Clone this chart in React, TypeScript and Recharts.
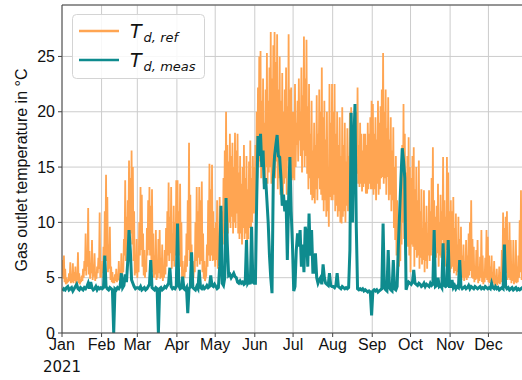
import { LineChart, Line, XAxis, YAxis, CartesianGrid, ReferenceLine } from 'recharts';

// daily values (day 0 = 1 Jan 2021)
const refHiJan = [6.6, 7.0, 5.8, 5.0, 4.8, 5.4, 6.4, 5.2, 6.3, 5.5, 6.0, 5.0, 7.3, 5.4, 4.9, 5.2, 5.8, 6.5, 9.0, 7.0, 11.3, 7.4, 5.9, 8.4, 6.2, 7.2, 5.5, 6.0, 6.8, 10.9, 6.2];
const refLoJan = [5.2, 4.9, 4.6, 4.4, 4.5, 4.6, 4.7, 4.5, 4.6, 4.5, 4.7, 4.4, 4.8, 4.5, 4.4, 4.6, 4.7, 5.0, 5.6, 5.2, 6.0, 5.3, 4.9, 5.4, 4.8, 5.1, 4.7, 4.9, 5.4, 5.8, 5.0];
const measJan = [3.8, 4.0, 3.9, 4.1, 4.2, 3.9, 4.0, 4.1, 3.8, 4.0, 4.2, 4.4, 4.0, 3.9, 4.1, 4.0, 3.9, 4.1, 4.0, 4.2, 4.5, 4.0, 4.6, 4.1, 3.9, 4.0, 4.2, 3.9, 4.1, 4.0, 4.1];

const refHiFeb = [6.5, 7.8, 11.0, 14.3, 12.3, 8.0, 9.6, 6.0, 5.5, 5.0, 5.3, 5.8, 5.2, 6.5, 5.6, 7.2, 6.0, 8.5, 13.8, 10.5, 12.0, 15.6, 14.0, 16.5, 15.0, 11.0, 6.2, 8.5];
const refLoFeb = [5.0, 5.4, 6.0, 7.0, 6.5, 5.5, 5.8, 4.8, 4.6, 4.5, 4.5, 4.7, 4.6, 4.8, 4.7, 5.0, 4.9, 5.5, 7.0, 6.5, 7.5, 8.5, 8.0, 9.0, 8.0, 6.5, 5.2, 5.4];
const measFeb = [4.0, 4.1, 7.0, 4.2, 4.0, 3.9, 4.1, 4.0, 3.9, 0, 4.0, 3.9, 4.1, 4.0, 4.2, 5.4, 4.1, 4.3, 5.3, 4.6, 6.5, 9.3, 7.5, 4.8, 4.5, 4.2, 4.0, 4.1];

const refHiMar = [7.0, 10.0, 13.2, 12.5, 9.0, 7.5, 6.5, 9.5, 12.0, 13.2, 11.5, 13.0, 9.0, 7.0, 9.3, 6.5, 8.5, 9.3, 6.8, 8.0, 6.0, 7.5, 9.5, 11.0, 13.6, 10.5, 13.2, 9.0, 11.5, 10.0, 13.8];
const refLoMar = [5.0, 5.5, 7.0, 7.5, 6.0, 5.2, 5.0, 5.5, 7.0, 7.5, 7.0, 6.5, 5.5, 5.0, 5.3, 4.8, 5.0, 5.4, 4.9, 5.0, 4.7, 5.0, 5.3, 6.0, 7.0, 6.5, 7.2, 5.8, 6.5, 6.0, 7.0];
const measMar = [4.1, 4.0, 4.2, 3.9, 4.0, 4.1, 3.9, 4.0, 4.2, 4.4, 6.6, 4.1, 4.0, 3.9, 4.1, 4.0, 0, 4.0, 4.1, 3.9, 4.0, 4.2, 4.1, 4.3, 4.5, 5.9, 4.2, 4.0, 4.1, 4.0, 4.2];

const refHiApr = [13.8, 11.0, 13.5, 10.0, 6.5, 5.5, 7.0, 9.0, 12.0, 17.2, 12.5, 8.0, 5.5, 6.5, 10.0, 13.2, 11.0, 13.2, 12.0, 13.7, 9.0, 6.5, 5.0, 8.0, 12.0, 15.3, 13.0, 15.2, 11.0, 9.5];
const refLoApr = [7.0, 6.5, 7.0, 6.0, 5.0, 4.8, 5.0, 5.5, 6.0, 7.5, 6.5, 5.2, 4.8, 5.0, 5.5, 6.5, 6.0, 6.8, 6.2, 6.5, 5.5, 4.9, 4.7, 5.2, 6.0, 7.0, 6.5, 7.0, 6.5, 6.6];
const measApr = [9.9, 4.3, 4.0, 4.1, 5.1, 4.0, 3.9, 4.1, 1.8, 4.0, 4.2, 7.3, 4.1, 4.0, 3.9, 4.2, 4.0, 5.7, 4.1, 4.0, 4.2, 4.0, 4.1, 4.3, 4.1, 4.2, 5.2, 4.3, 4.2, 4.4];

const refHiMay = [10.0, 12.0, 8.0, 12.3, 9.5, 11.0, 14.0, 16.5, 20.0, 17.0, 15.5, 18.0, 16.0, 17.2, 15.0, 18.1, 16.5, 18.0, 14.5, 16.0, 13.5, 15.0, 17.0, 14.0, 16.0, 13.0, 15.5, 17.4, 14.0, 16.0, 15.0];
const refLoMay = [6.0, 6.6, 5.8, 6.6, 6.2, 7.0, 8.0, 9.0, 10.5, 10.0, 9.0, 10.0, 9.5, 10.5, 9.0, 10.0, 9.5, 10.8, 9.0, 8.5, 9.0, 8.0, 9.5, 8.5, 9.0, 7.5, 8.5, 9.5, 9.0, 10.0, 10.8];
const measMay = [4.2, 4.0, 4.1, 6.0, 11.5, 4.5, 4.3, 5.0, 12.2, 8.0, 5.2, 5.3, 5.0, 5.2, 5.4, 5.1, 5.0, 4.6, 4.5, 4.7, 4.5, 4.6, 4.4, 4.5, 8.4, 4.5, 4.7, 4.4, 9.6, 4.6, 4.5];

const refHiJun = [17.0, 20.0, 22.2, 25.0, 25.5, 21.0, 23.0, 19.0, 22.0, 25.3, 21.0, 24.0, 27.2, 23.0, 26.0, 27.2, 24.5, 27.0, 22.0, 25.0, 21.0, 23.5, 20.0, 22.0, 24.0, 20.5, 27.0, 22.0, 22.2, 20.0];
const refLoJun = [10.8, 12.0, 14.0, 15.0, 15.5, 14.0, 15.0, 13.5, 14.0, 15.0, 13.5, 14.5, 15.0, 13.5, 14.5, 16.0, 14.0, 15.5, 13.0, 14.0, 12.5, 13.5, 12.0, 13.5, 14.0, 12.5, 15.6, 14.0, 14.5, 13.8];
const measJun = [4.5, 12.0, 17.8, 16.0, 18.0, 15.0, 16.5, 13.0, 14.0, 12.0, 10.0, 7.0, 5.0, 3.6, 14.0, 16.0, 17.0, 17.9, 16.0, 15.9, 14.0, 11.5, 12.5, 11.0, 12.0, 6.6, 12.0, 15.9, 11.0, 8.0];

const refHiJul = [20.0, 22.5, 19.0, 21.0, 23.0, 20.0, 24.0, 21.5, 26.8, 23.0, 26.5, 20.5, 22.5, 18.0, 21.0, 16.5, 19.0, 17.0, 21.5, 18.0, 22.0, 20.0, 24.0, 19.5, 21.0, 17.5, 20.0, 15.0, 22.5, 19.0, 22.5];
const refLoJul = [14.0, 13.8, 15.0, 17.0, 15.5, 17.4, 16.0, 14.5, 16.5, 15.0, 16.0, 14.4, 13.0, 14.0, 12.5, 12.0, 12.2, 11.7, 13.0, 12.0, 14.0, 13.0, 12.5, 12.0, 11.0, 12.0, 10.5, 11.0, 9.6, 12.3, 12.0];
const measJul = [3.8, 4.2, 7.5, 9.0, 7.8, 9.3, 6.0, 8.0, 5.5, 9.6, 9.0, 6.0, 10.8, 7.0, 9.3, 5.5, 5.5, 7.2, 5.0, 4.5, 4.8, 5.0, 4.4, 6.2, 5.0, 4.5, 4.4, 4.3, 5.4, 4.3, 4.2];

const refHiAug = [20.0, 22.5, 18.0, 20.0, 17.0, 19.5, 16.0, 20.4, 17.0, 19.0, 15.5, 18.5, 16.0, 19.9, 20.4, 17.0, 19.0, 18.5, 20.0, 22.2, 17.0, 19.0, 18.0, 16.5, 18.0, 18.0, 17.0, 19.0, 18.0, 19.5, 21.0];
const refLoAug = [12.0, 12.5, 11.0, 11.5, 10.5, 11.0, 10.0, 9.9, 10.5, 11.0, 10.0, 11.5, 11.0, 12.0, 13.0, 12.5, 14.0, 14.4, 13.5, 14.4, 13.5, 13.2, 13.5, 12.8, 13.2, 13.5, 12.6, 12.6, 13.0, 13.5, 13.0];
const measAug = [4.2, 4.1, 4.3, 5.4, 4.2, 4.1, 4.0, 4.2, 4.1, 4.0, 4.1, 4.0, 4.1, 7.5, 19.9, 10.0, 17.0, 20.7, 9.6, 4.0, 3.9, 4.0, 3.9, 4.0, 3.8, 3.9, 3.8, 3.7, 3.8, 3.7, 1.6];

const refHiSep = [20.7, 18.0, 19.5, 17.5, 21.0, 19.0, 20.5, 22.0, 25.3, 20.0, 22.0, 18.5, 21.3, 17.5, 19.5, 16.5, 18.6, 15.0, 16.0, 12.0, 9.0, 8.0, 13.0, 17.0, 20.7, 18.0, 14.5, 16.0, 17.7, 15.0];
const refLoSep = [13.0, 12.5, 13.0, 12.0, 13.5, 12.5, 13.0, 14.0, 14.1, 13.5, 14.0, 12.5, 14.1, 12.0, 12.5, 11.0, 12.0, 9.5, 8.4, 7.0, 6.0, 6.0, 6.5, 8.0, 10.0, 8.5, 7.5, 8.0, 7.8, 7.0];
const measSep = [3.8, 3.9, 3.8, 3.9, 3.7, 3.8, 3.9, 4.0, 9.9, 4.1, 3.9, 3.8, 7.5, 4.1, 3.9, 3.8, 6.6, 4.0, 3.9, 4.2, 8.0, 11.0, 14.0, 16.7, 15.6, 14.0, 3.9, 4.3, 4.6, 4.5];

const refHiOct = [14.0, 16.0, 16.8, 13.0, 15.0, 12.0, 15.6, 11.0, 13.0, 9.5, 12.9, 10.0, 11.5, 9.0, 12.9, 11.0, 14.0, 16.8, 12.0, 10.5, 11.5, 13.5, 10.0, 12.5, 11.0, 15.9, 12.0, 10.5, 15.9, 14.5, 11.0];
const refLoOct = [5.5, 8.0, 7.8, 6.0, 7.5, 6.8, 7.0, 5.8, 6.8, 6.2, 6.6, 5.5, 6.5, 5.8, 7.0, 6.5, 7.0, 7.5, 6.5, 5.6, 6.8, 7.2, 6.0, 7.0, 6.8, 8.4, 7.0, 6.0, 7.5, 7.2, 5.5];
const measOct = [4.4, 4.6, 5.7, 4.5, 4.4, 4.3, 4.5, 4.4, 4.2, 4.3, 4.5, 4.2, 4.4, 4.3, 4.2, 4.5, 4.3, 4.4, 9.3, 4.2, 4.3, 5.0, 4.2, 4.3, 4.1, 8.1, 4.3, 4.2, 4.3, 8.4, 4.2];

const refHiNov = [12.0, 11.0, 12.3, 9.5, 10.8, 8.0, 10.5, 8.5, 9.6, 7.0, 8.0, 6.5, 8.4, 7.0, 9.0, 10.0, 12.0, 8.5, 7.8, 6.0, 7.5, 8.4, 6.0, 6.9, 9.3, 7.0, 5.5, 6.8, 9.3, 8.7];
const refLoNov = [5.5, 5.8, 6.0, 5.4, 5.6, 5.2, 5.5, 5.0, 5.2, 4.8, 5.0, 4.7, 5.0, 4.8, 5.0, 5.2, 5.6, 5.0, 4.9, 4.6, 4.8, 4.9, 4.5, 4.7, 5.0, 4.6, 4.4, 4.6, 5.0, 4.8];
const measNov = [4.2, 4.8, 4.1, 4.3, 4.0, 4.2, 4.1, 6.6, 4.2, 4.0, 4.1, 4.2, 4.0, 4.1, 4.3, 4.0, 4.2, 4.1, 4.0, 4.2, 4.1, 4.0, 4.1, 4.2, 4.0, 4.1, 4.0, 4.2, 4.1, 4.0];

const refHiDec = [7.0, 6.0, 7.0, 5.5, 6.5, 5.2, 5.8, 5.0, 6.0, 5.5, 7.5, 10.9, 9.5, 10.5, 11.0, 8.4, 10.0, 8.4, 6.0, 8.4, 5.5, 8.4, 6.0, 7.0, 10.2, 12.9, 9.0, 5.5, 6.0, 5.2, 5.5];
const refLoDec = [4.6, 4.5, 4.7, 4.4, 4.5, 4.3, 4.4, 4.3, 4.5, 4.4, 4.6, 5.2, 5.0, 5.3, 5.4, 4.8, 5.0, 4.8, 4.5, 4.7, 4.4, 4.6, 4.5, 4.6, 5.0, 5.5, 4.8, 4.4, 4.5, 4.3, 4.4];
const measDec = [4.1, 4.0, 4.5, 4.1, 4.0, 4.2, 4.0, 4.1, 3.9, 4.0, 4.1, 4.0, 8.0, 4.2, 4.0, 4.1, 3.9, 4.0, 4.1, 3.9, 4.0, 4.1, 3.9, 4.0, 3.9, 4.0, 4.1, 3.9, 4.0, 3.9, 4.0];

const monthStarts = [0, 31, 59, 90, 120, 151, 181, 212, 243, 273, 304, 334];
const monthLabels = ['Jan', 'Feb', 'Mar', 'Apr', 'May', 'Jun', 'Jul', 'Aug', 'Sep', 'Oct', 'Nov', 'Dec'];
const yearLabel = '2021';
const yTicks = [0, 5, 10, 15, 20, 25];
const Y_MAX = 29.65;

const refHi = [refHiJan, refHiFeb, refHiMar, refHiApr, refHiMay, refHiJun, refHiJul, refHiAug, refHiSep, refHiOct, refHiNov, refHiDec].flat();
const refLo = [refLoJan, refLoFeb, refLoMar, refLoApr, refLoMay, refLoJun, refLoJul, refLoAug, refLoSep, refLoOct, refLoNov, refLoDec].flat();
const meas = [measJan, measFeb, measMar, measApr, measMay, measJun, measJul, measAug, measSep, measOct, measNov, measDec].flat();

// daily low/high pairs give the dense band look of the hourly series
const refData = refHi.flatMap((hi, d) => [
  { day: d, v: refLo[d] },
  { day: d + 0.5, v: hi },
]);
const measData = meas.map((v, d) => ({ day: d + 0.5, v }));

const ORANGE = '#FFA552';
const TEAL = '#0E8B8E';
const SANS = '"Liberation Sans", Arial, sans-serif';

const MonthTick = ({ x, payload }: { x?: number; payload?: { value: number } }) => {
  const i = monthStarts.indexOf(payload?.value ?? -1);
  return (
    <g>
      <text x={x} y={350} textAnchor="middle" fontSize={16} fontFamily={SANS} fill="#111">
        {monthLabels[i]}
      </text>
      {i === 0 && (
        <text x={x} y={372} textAnchor="middle" fontSize={15} fontFamily="DejaVu Sans" fill="#111">
          {yearLabel}
        </text>
      )}
    </g>
  );
};

const AxisTitle = () => (
  <text
    x={21}
    y={170}
    transform="rotate(-90 21 170)"
    textAnchor="middle"
    dominantBaseline="central"
    fontSize={16}
    fontFamily={SANS}
    fill="#111"
  >
    Gas outlet temperature in °C
  </text>
);

function LegendBox() {
  return (
    <svg width={136} height={68} style={{ position: 'absolute', left: 71, top: 13 }}>
      <rect x={1.5} y={1.5} width={132} height={64} rx={4} fill="#fff" fillOpacity={0.85} stroke="#d4d4d4" />
      <line x1={8} x2={48} y1={18} y2={18} stroke={ORANGE} strokeWidth={2.5} />
      <line x1={8} x2={48} y1={47} y2={47} stroke={TEAL} strokeWidth={2.5} />
      <text x={59} y={25} fontStyle="italic" fontSize={19} fontFamily="DejaVu Sans" fill="#111">
        T<tspan fontSize={13} dx={2} dy={4}>d, ref</tspan>
      </text>
      <text x={59} y={54} fontStyle="italic" fontSize={19} fontFamily="DejaVu Sans" fill="#111">
        T<tspan fontSize={13} dx={2} dy={4}>d, meas</tspan>
      </text>
    </svg>
  );
}

export default function App() {
  return (
    <div style={{ position: 'absolute', left: 0, top: 0, width: 522, height: 380, overflow: 'hidden', background: '#fff' }}>
      <LineChart width={540} height={380} margin={{ top: 5, right: 12, bottom: 0, left: 0 }}>
        <CartesianGrid stroke="#cccccc" strokeWidth={1} />
        <XAxis
          dataKey="day"
          type="number"
          domain={[0, 365]}
          ticks={monthStarts}
          tick={<MonthTick />}
          tickSize={4}
          height={47}
          axisLine={{ stroke: '#444' }}
          tickLine={{ stroke: '#444' }}
          allowDataOverflow
        />
        <YAxis
          type="number"
          domain={[0, Y_MAX]}
          ticks={yTicks}
          width={62}
          tickSize={4}
          tickMargin={3}
          tick={{ fontSize: 16, fontFamily: SANS, fill: '#111' }}
          axisLine={{ stroke: '#444' }}
          tickLine={{ stroke: '#444' }}
          label={<AxisTitle />}
          allowDataOverflow
        />
        <ReferenceLine y={Y_MAX} stroke="#444" />
        <Line
          data={refData}
          dataKey="v"
          type="linear"
          stroke={ORANGE}
          strokeWidth={1.8}
          dot={false}
          isAnimationActive={false}
        />
        <Line
          data={measData}
          dataKey="v"
          type="linear"
          stroke={TEAL}
          strokeWidth={3}
          dot={false}
          isAnimationActive={false}
        />
      </LineChart>
      <LegendBox />
    </div>
  );
}
